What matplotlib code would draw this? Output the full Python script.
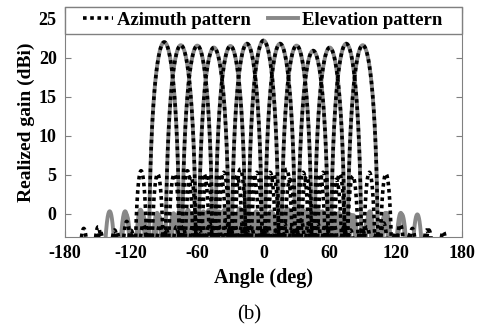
import numpy as np
import matplotlib
matplotlib.use("Agg")
import matplotlib.pyplot as plt
from matplotlib.patches import Rectangle

plt.rcParams['font.family'] = ['Liberation Serif', 'DejaVu Serif']
plt.rcParams['axes.unicode_minus'] = False

# beam steering angles (deg) and peak realized gain (dBi)
beam_angles = [-90, -75, -60, -45, -30, -15, 0, 15, 30, 45, 60, 75, 90]
peak_gain = [22.0, 21.6, 21.55, 21.3, 21.5, 21.8, 22.2, 21.8, 21.55, 20.9, 21.3, 21.8, 21.6]

# main lobe first-null offset (deg)
main_null = 14.5

# side-lobe spacing (deg) and side-lobe levels relative to the peak (dB)
az_lobe_width = 13.0
az_sidelobes = [-16.5, -23.0, -26.0, -23.7, -23.9, -27.0, -30.0, -30.0]
el_lobe_width = 14.0
el_sidelobes = [-21.5, -21.7, -21.7, -28.0, -30.0, -32.0, -32.0, -32.0]

theta = np.arange(-180, 180.05, 0.1)


def beam(center, peak, lobe_w, lobes):
    u = np.abs(theta - center)
    amp = np.zeros_like(u)
    main = u < main_null
    amp[main] = np.abs(np.sinc(u[main] / main_null))
    rest = ~main
    k = np.floor((u[rest] - main_null) / lobe_w).astype(int)
    k = np.clip(k, 0, len(lobes) - 1)
    lvl = 10 ** (np.array(lobes)[k] / 20)
    amp[rest] = lvl * np.abs(np.sin(np.pi * (u[rest] - main_null) / lobe_w))
    return peak + 20 * np.log10(np.maximum(amp, 1e-6))


fig, axe = plt.subplots(figsize=(4.79, 3.30), dpi=100)
fig.subplots_adjust(left=0.1357, right=0.9645, top=0.9788, bottom=0.2818)

for c, p in zip(beam_angles, peak_gain):
    axe.plot(theta, beam(c, p, el_lobe_width, el_sidelobes), color='#888888', lw=2.8,
             label='Elevation pattern' if c == beam_angles[0] else None)
for c, p in zip(beam_angles, peak_gain):
    axe.plot(theta, beam(c, p, az_lobe_width, az_sidelobes), color='black', lw=2.6,
             linestyle=(0, (1, 1)), dash_capstyle='butt',
             label='Azimuth pattern' if c == beam_angles[0] else None)

axe.set_xlim(-180, 180)
axe.set_ylim(-3, 26.5)
axe.set_xticks(np.arange(-180, 181, 60))
axe.set_yticks([0, 5, 10, 15, 20, 25])
axe.tick_params(direction='in', top=True, right=True, length=4, labelsize=13, pad=6,
                color='#808080')
for lab in axe.get_xticklabels() + axe.get_yticklabels():
    lab.set_fontweight('bold')
for s in axe.spines.values():
    s.set_color('#808080')

axe.set_xlabel('Angle (deg)', fontsize=14.5, fontweight='bold', labelpad=4)
axe.set_ylabel('Realized gain (dBi)', fontsize=14, fontweight='bold', labelpad=3)

# legend box across the top of the axes
box_h = 0.1174
axe.add_patch(Rectangle((0, 1 - box_h), 1, box_h, transform=axe.transAxes,
                        facecolor='white', edgecolor='#808080', lw=1.0, zorder=5,
                        clip_on=False))
h, l = axe.get_legend_handles_labels()
leg = axe.legend(h[::-1], l[::-1], ncol=2, loc='center',
                 bbox_to_anchor=(0.045, 1 - box_h, 0.905, box_h),
                 mode='expand', borderaxespad=0, frameon=False,
                 handlelength=1.6, handletextpad=0.2, borderpad=0,
                 prop={'weight': 'bold', 'size': 13.5})
leg.set_zorder(6)

fig.text(0.52, 1 - 315 / 330, '(b)', ha='center', va='center', fontsize=15)

fig.savefig('out.png', dpi=100)
